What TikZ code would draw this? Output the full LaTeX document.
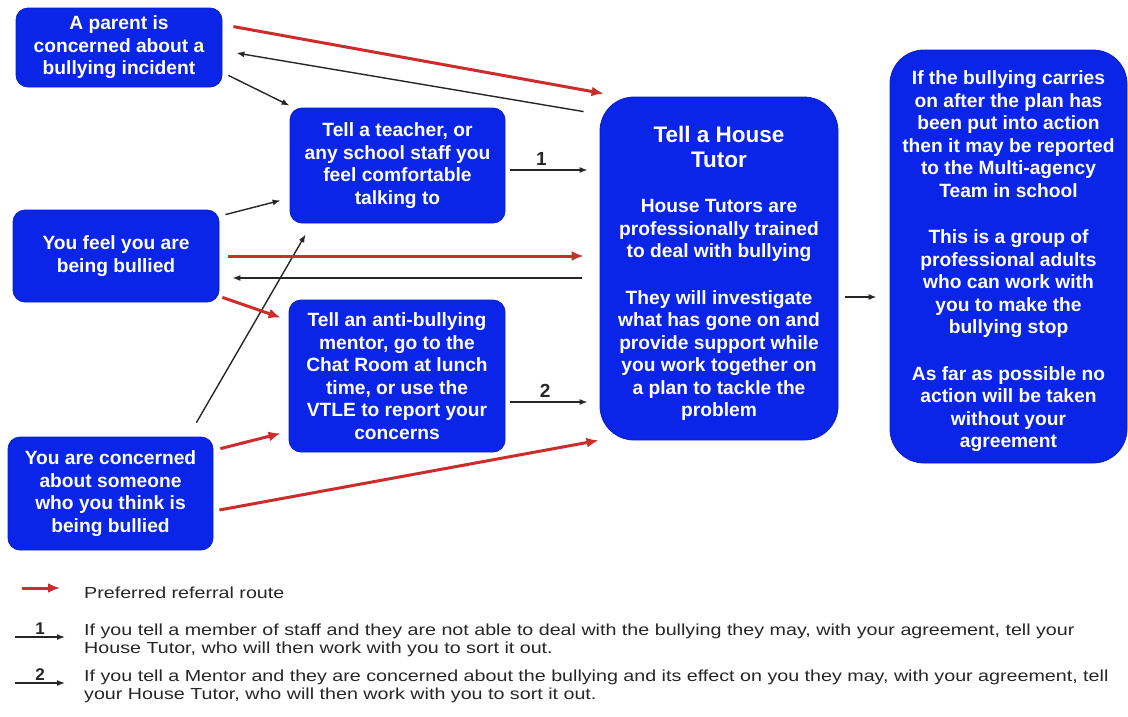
\documentclass[tikz,border=0pt]{standalone}
\usepackage{fontspec}
\setmainfont{Liberation Sans}
\newfontfamily\legendfont[FakeStretch=1.23]{Liberation Sans}
\usetikzlibrary{arrows.meta}
\definecolor{boxblue}{RGB}{10,36,232}
\definecolor{routered}{RGB}{204,44,44}
\newcommand{\ttl}[1]{{\fontsize{22.5}{25}\selectfont #1}}

\begin{document}
\begin{tikzpicture}[x=1pt,y=-1pt,
  box/.style={rectangle, rounded corners=12pt, fill=boxblue, draw=boxblue!85!black, line width=0.8pt, text=white, align=center, inner sep=0pt, font=\bfseries\fontsize{19.2}{22.5}\selectfont},
  bigbox/.style={box, rounded corners=34pt},
  redroute/.style={routered, line width=3pt, -{Latex[length=12pt,width=10pt]}},
  plainroute/.style={black!85, line width=1.4pt, -{Latex[length=8pt,width=6pt]}},
  numlabel/.style={font=\bfseries\fontsize{19}{19}\selectfont, text=black!85, inner sep=0pt},
  legendtext/.style={font=\legendfont\fontsize{16}{18}\selectfont, text=black!85, align=left, inner sep=0pt}]
\useasboundingbox (0,0) rectangle (1128,716);

% boxes
\node[box, minimum width=206pt, minimum height=79pt] (parent) at (119,47.5) {A parent is\\concerned about a\\bullying incident};
\node[box, minimum width=215pt, minimum height=115pt] (teacher) at (397.5,165.5) {Tell a teacher, or\\any school staff you\\feel comfortable\\talking to};
\node[box, minimum width=206pt, minimum height=92pt] (victim) at (116,256) {You feel you are\\being bullied};
\node[box, minimum width=216pt, minimum height=152pt] (mentor) at (397,376) {Tell an anti-bullying\\mentor, go to the\\Chat Room at lunch\\time, or use the\\VTLE to report your\\concerns};
\node[box, minimum width=205pt, minimum height=113pt] (witness) at (110.5,493.5) {You are concerned\\about someone\\who you think is\\being bullied};
\node[bigbox, minimum width=238pt, minimum height=343pt] (tutor) at (719,268.5) {\mbox{}\\[4pt]\ttl{Tell a House}\\[2.5pt]\ttl{Tutor}\\[22.5pt]House Tutors are\\professionally trained\\to deal with bullying\\[24pt]They will investigate\\what has gone on and\\provide support while\\you work together on\\a plan to tackle the\\problem};
\node[bigbox, minimum width=237pt, minimum height=413pt] (agency) at (1008.5,256.5) {\mbox{}\\[1pt]If the bullying carries\\on after the plan has\\been put into action\\then it may be reported\\to the Multi-agency\\Team in school\\[24pt]This is a group of\\professional adults\\who can work with\\you to make the\\bullying stop\\[24pt]As far as possible no\\action will be taken\\without your\\agreement};

% routes
\draw[redroute] ([shift={(11,19)}]parent.north east) -- ([shift={(4,-3)}]tutor.north west);
\draw[plainroute] ([shift={(-16,15)}]tutor.north west) -- ([shift={(14,5.5)}]parent.east);
\draw[plainroute] ([shift={(6,-12)}]parent.south east) -- ([shift={(0,-2)}]teacher.north west);
\draw[plainroute] ([shift={(6,5)}]victim.north east) -- ([shift={(-9,-23)}]teacher.south west);
\draw[plainroute] ([shift={(-17,-14)}]witness.north east) -- ([shift={(16,11)}]teacher.south west);
\draw[redroute] ([shift={(9,0)}]victim.east) -- ([shift={(-16,-12.5)}]tutor.west);
\draw[plainroute] ([shift={(-18,9.5)}]tutor.west) -- ([shift={(13,22)}]victim.east);
\draw[redroute] ([shift={(3,-5)}]victim.south east) -- ([shift={(-8,18)}]mentor.north west);
\draw[redroute] ([shift={(7,12)}]witness.north east) -- ([shift={(-8,-19)}]mentor.south west);
\draw[redroute] ([shift={(6,16.5)}]witness.east) -- ([shift={(-1,0)}]tutor.south west);
\draw[plainroute] ([shift={(5,4.5)}]teacher.east) -- ([shift={(-12,-98.5)}]tutor.west) node[numlabel, pos=0.4, above=4pt] {1};
\draw[plainroute] ([shift={(5,26)}]mentor.east) -- ([shift={(-12,133.5)}]tutor.west) node[numlabel, pos=0.45, above=4pt] {2};
\draw[plainroute] ([shift={(7,28.5)}]tutor.east) -- ([shift={(-13,40.5)}]agency.west);

% key
\node[legendtext, anchor=west] (preferred) at (84,593) {Preferred referral route};
\node[legendtext, anchor=north west] (staffnote) at (84,624) {If you tell a member of staff and they are not able to deal with the bullying they may, with your agreement, tell your\\House Tutor, who will then work with you to sort it out.};
\node[legendtext, anchor=north west] (mentornote) at (84,670) {If you tell a Mentor and they are concerned about the bullying and its effect on you they may, with your agreement, tell\\your House Tutor, who will then work with you to sort it out.};
\draw[redroute] ([shift={(-62,-5)}]preferred.west) -- ([shift={(-24,-5)}]preferred.west);
\draw[plainroute] ([shift={(-69,13)}]staffnote.north west) -- ([shift={(-19,13)}]staffnote.north west) node[numlabel, midway, above=2pt, font=\bfseries\fontsize{17}{17}\selectfont] {1};
\draw[plainroute] ([shift={(-69,13)}]mentornote.north west) -- ([shift={(-19,13)}]mentornote.north west) node[numlabel, midway, above=2pt, font=\bfseries\fontsize{17}{17}\selectfont] {2};
\end{tikzpicture}
\end{document}
